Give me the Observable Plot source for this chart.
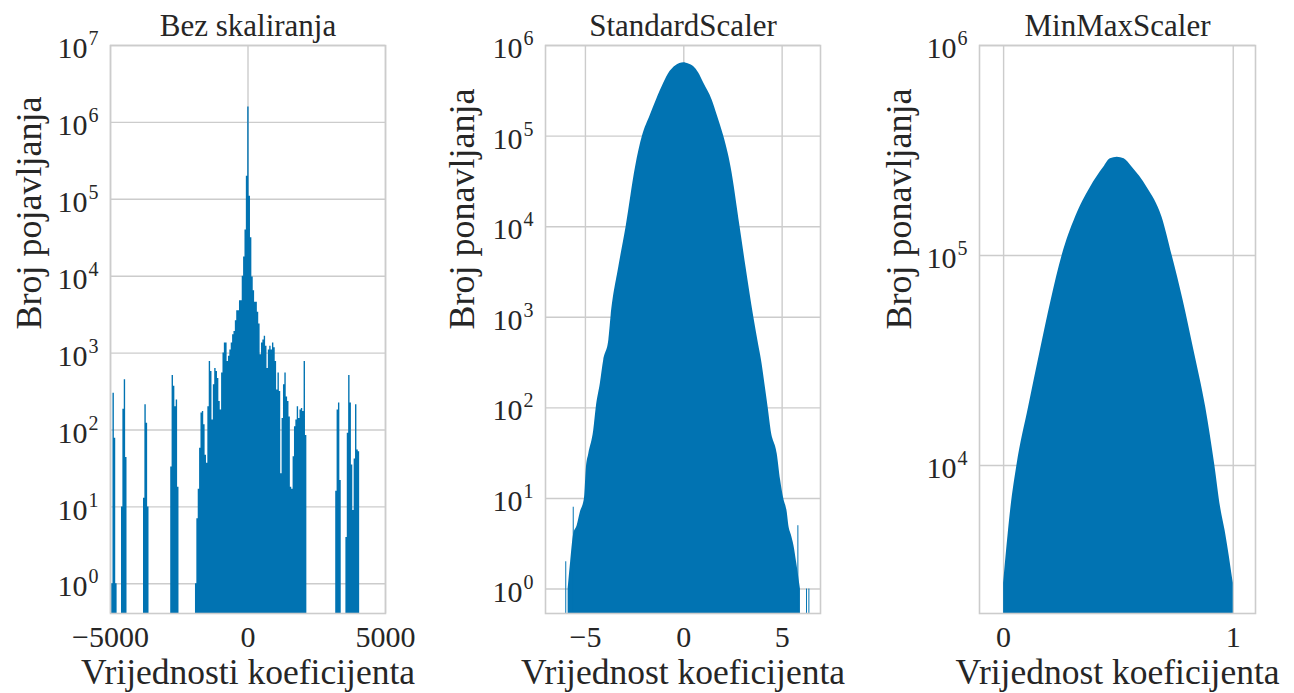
<!DOCTYPE html>
<html><head><meta charset="utf-8">
<script src="https://cdn.jsdelivr.net/npm/d3@7"></script>
<script src="https://cdn.jsdelivr.net/npm/@observablehq/plot@0.6"></script>
<style>
body{margin:0;background:#fff;}
#wrap{position:relative;width:1294px;height:693px;overflow:hidden;}
#wrap svg, #wrap svg text, #wrap svg tspan{font-family:"Liberation Serif","Times New Roman",serif !important;}
</style></head><body><div id="wrap"></div>
<script>
// ---------- Panel 1: Bez skaliranja (histogram bins, width 50) ----------
const bezBinWidth = 50;
const bezStarts = [-4960, -4600, -3800, -2810, -1910, 3190, 3560];
const bezCounts = [
  [1, 300, 78, 1],
  [10, 186, 450, 44],
  [13, 213, 122, 10],
  [33, 510, 370, 200, 245, 18],
  [1, 7, 17, 58, 166, 174, 117, 47, 37, 200,
   776, 575, 135, 389, 631, 575, 468, 234, 182, 550,
   1000, 1349, 1349, 776, 912, 1096, 1349, 1738, 1905, 2630,
   3548, 3548, 4786, 4786, 10000, 17783, 39811, 199526, 1584893, 109648,
   31623, 9772, 6457, 4571, 4571, 3388, 2399, 955, 1349, 1479,
   1660, 1230, 631, 1096, 1230, 1096, 1349, 1175, 776, 331,
   550, 316, 27, 141, 389, 550, 269, 234, 148, 18,
   17, 45, 110, 135, 200, 141, 182, 191, 174, 776,
   85],
  [16, 182, 224, 22],
  [4, 91, 510, 224, 35, 9, 42, 213, 55, 52]
];

// ---------- Panel 2: StandardScaler (envelope) ----------
const stdX = [-5.88, -5.75, -5.6, -5.42, -5.26, -5.05, -4.95, -4.83, -4.58, -4.45,
  -4.24, -4.07, -3.81, -3.7, -3.3, -2.93, -2.45, -2.1, -1.7, -1.39,
  -1.02, -0.7, -0.42, -0.2, 0, 0.25, 0.51, 0.75, 1.02, 1.44,
  1.7, 2.03, 2.4, 2.86, 3.16, 3.56, 3.81, 3.95, 4.12, 4.29,
  4.44, 4.75, 4.92, 5.08, 5.26, 5.34, 5.46, 5.6, 5.73, 5.93];
const stdCount = [1, 2, 4, 5, 7, 10, 22, 31, 56, 100,
  186, 335, 557, 1000, 3600, 10000, 45700, 100000, 170000, 250000,
  382000, 515000, 595000, 634000, 646000, 625000, 583000, 500000, 382000, 250000,
  170000, 100000, 45700, 10000, 3600, 1000, 490, 335, 186, 100,
  56, 31, 16, 10, 7, 5, 4, 3, 2, 1];
const stdSpikeX = [-6.0, -5.62, 5.8, 6.24, 6.36];
const stdSpikeCount = [2, 8, 5, 1, 1];
const stdSpikeWidth = 0.05;

// ---------- Panel 3: MinMaxScaler ----------
const mmX = [0, 0.02, 0.032, 0.058, 0.109, 0.16, 0.207, 0.255, 0.313,
  0.378, 0.436, 0.465, 0.495, 0.525, 0.56, 0.625, 0.69, 0.734, 0.782,
  0.829, 0.88, 0.92, 0.945, 0.967, 1.0];
const mmCount = [2750, 4730, 6310, 10000, 18970, 35300, 61100, 100000, 152000,
  211000, 263000, 289000, 294000, 289000, 263000, 211000, 152000, 100000, 61100,
  35300, 18970, 10000, 6310, 4730, 2750];

// ---------- Text / ticks ----------
const titles = ["Bez skaliranja", "StandardScaler", "MinMaxScaler"];
const xLabels = ["Vrijednosti koeficijenta", "Vrijednost koeficijenta", "Vrijednost koeficijenta"];
const yLabels = ["Broj pojavljanja", "Broj ponavljanja", "Broj ponavljanja"];
const xTicks1 = [-5000, 0, 5000];
const xTicks2 = [-5, 0, 5];
const xTicks3 = [0, 1];
const yTicks1 = [1, 10, 100, 1e3, 1e4, 1e5, 1e6, 1e7];
const yTicks2 = [1, 10, 100, 1e3, 1e4, 1e5, 1e6];
const yTicks3 = [1e4, 1e5, 1e6];

// build tables: each cluster becomes one step outline (bin left edges + closing right edge)
const bezSteps = bezStarts.flatMap((s, k) => {
  const c = bezCounts[k];
  const pts = c.map((v, i) => ({cluster: k, x: s + i * bezBinWidth, count: v}));
  pts.push({cluster: k, x: s + c.length * bezBinWidth, count: c[c.length - 1]});
  return pts;
});
const stdData = stdX.map((x, i) => ({x, count: stdCount[i]}));
const stdSpikes = stdSpikeX.map((x, i) => ({x1: x, x2: x + stdSpikeWidth, count: stdSpikeCount[i]}));
const mmData = mmX.map((x, i) => ({x, count: mmCount[i]}));

const blue = "#0173b2";
const gridColor = "#cccccc";
const serif = "Liberation Serif";
const fmtX = d => (d < 0 ? "\u2212" : "") + Math.abs(d);
const NS = "http://www.w3.org/2000/svg";

function panel({left, width, ml, mr, xDomain, yDomain, xTicks, yTicks, title, xLabel, yLabel, yLabelDx, marks}) {
  const svg = Plot.plot({
    width, height: 693, marginLeft: ml, marginRight: mr, marginTop: 45, marginBottom: 80,
    style: {fontFamily: serif, fontSize: "30px", color: "#262626", background: "transparent", overflow: "visible"},
    x: {domain: xDomain},
    y: {type: "log", domain: yDomain},
    marks: [
      Plot.gridX(xTicks, {stroke: gridColor, strokeOpacity: 1, strokeWidth: 1.4}),
      Plot.gridY(yTicks, {stroke: gridColor, strokeOpacity: 1, strokeWidth: 1.4}),
      ...marks,
      Plot.frame({stroke: gridColor, strokeWidth: 1.6}),
      Plot.axisX(xTicks, {tickSize: 0, tickPadding: 12, tickFormat: fmtX, label: null, fontFamily: serif}),
      Plot.axisY(yTicks, {tickSize: 0, tickPadding: 12, tickFormat: d => String(Math.round(Math.log10(d))), label: null, dy: 3, fontFamily: serif}),
      Plot.text([title], {frameAnchor: "top", lineAnchor: "middle", dy: -19, fontSize: 31, fontFamily: serif, text: d => d}),
      Plot.text([xLabel], {frameAnchor: "bottom", lineAnchor: "middle", dy: 59.5, fontSize: 35.5, fontFamily: serif, text: d => d}),
      Plot.text([yLabel], {frameAnchor: "left", lineAnchor: "middle", dx: yLabelDx, rotate: -90, fontSize: 36, fontFamily: serif, text: d => d})
    ]
  });
  svg.querySelectorAll('g[aria-label="y-axis tick label"] text').forEach(t => {
    const e = t.textContent;
    t.textContent = "";
    const a = document.createElementNS(NS, "tspan");
    a.textContent = "10";
    const b = document.createElementNS(NS, "tspan");
    b.setAttribute("dy", "-13");
    b.setAttribute("dx", "1");
    b.style.fontSize = "20px";
    b.textContent = e;
    t.appendChild(a); t.appendChild(b);
  });
  svg.style.position = "absolute";
  svg.style.left = left + "px";
  svg.style.top = "0px";
  svg.style.maxWidth = "none";
  document.getElementById("wrap").appendChild(svg);
}

panel({
  left: 0, width: 430, ml: 110, mr: 45,
  xDomain: [-5000, 5000], yDomain: [0.411, 1e7], xTicks: xTicks1, yTicks: yTicks1,
  title: titles[0], xLabel: xLabels[0], yLabel: yLabels[0], yLabelDx: -81.5,
  marks: [Plot.areaY(bezSteps, {x: "x", y1: 1e-3, y2: "count", z: "cluster", curve: "step-after", fill: blue, clip: true})]
});

panel({
  left: 430, width: 430, ml: 115, mr: 40,
  xDomain: [-7.03, 6.95], yDomain: [0.537, 1e6], xTicks: xTicks2, yTicks: yTicks2,
  title: titles[1], xLabel: xLabels[1], yLabel: yLabels[1], yLabelDx: -83.5,
  marks: [
    Plot.areaY(stdData, {x: "x", y1: 1e-3, y2: "count", fill: blue, curve: "monotone-x", clip: true}),
    Plot.rect(stdSpikes, {x1: "x1", x2: "x2", y1: 1e-3, y2: "count", fill: blue, clip: true})
  ]
});

panel({
  left: 860, width: 434, ml: 119, mr: 39,
  xDomain: [-0.105, 1.097], yDomain: [1972, 1e6], xTicks: xTicks3, yTicks: yTicks3,
  title: titles[2], xLabel: xLabels[2], yLabel: yLabels[2], yLabelDx: -80.5,
  marks: [Plot.areaY(mmData, {x: "x", y1: 1e-3, y2: "count", fill: blue, curve: "monotone-x", clip: true})]
});
</script></body></html>
